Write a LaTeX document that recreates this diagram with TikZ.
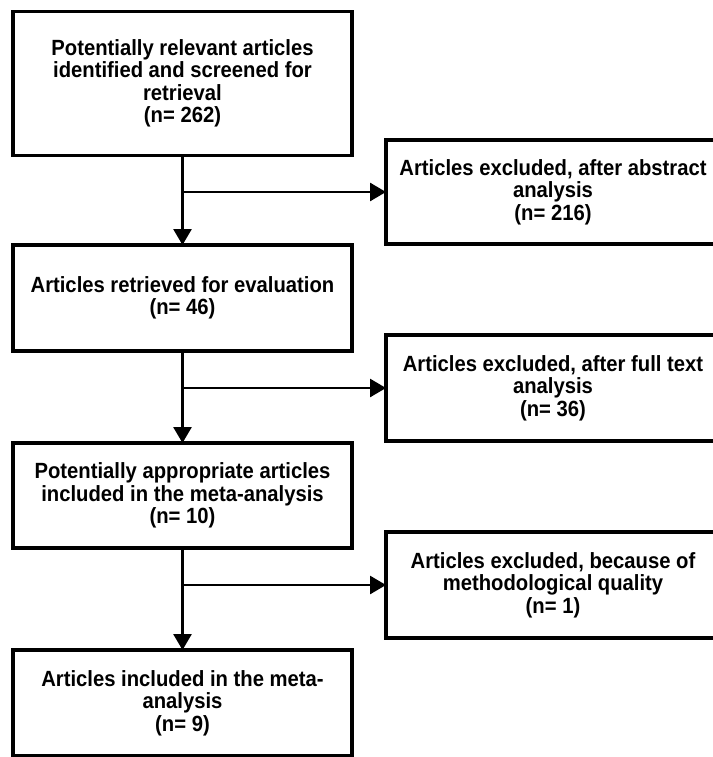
\documentclass[tikz,border=0pt]{standalone}
\usepackage{fontspec}
\setmainfont{Liberation Sans}[FakeStretch=0.92]
\usetikzlibrary{arrows.meta}
\tikzset{
	leftbox/.style={draw, line width=3.4pt, minimum width=339pt, inner sep=0pt, outer sep=0pt,
		align=center, font=\fontsize{22}{22.5}\selectfont\bfseries},
	rightbox/.style={leftbox, minimum width=334pt, minimum height=105pt},
	flow/.style={line width=2.8pt, -{Triangle[length=16pt,width=18pt]}},
}
\begin{document}
\begin{tikzpicture}[x=1pt,y=-1pt]
\useasboundingbox (0,0) rectangle (712,757);
% main column
\node[leftbox, minimum height=144pt] (ident) at (182.5,83.5) {Potentially relevant articles\\identified and screened for\\retrieval\\(n= 262)};
\node[leftbox, minimum height=106pt] (retr) at (182.5,298) {Articles retrieved for evaluation\\(n= 46)};
\node[leftbox, minimum height=105pt] (appr) at (182.5,495.5) {Potentially appropriate articles\\included in the meta-analysis\\(n= 10)};
\node[leftbox, minimum height=106pt] (incl) at (182.5,703) {Articles included in the meta-\\analysis\\(n= 9)};
% excluded
\node[rightbox, minimum height=104pt] (exabs) at (553,192) {Articles excluded, after abstract\\analysis\\(n= 216)};
\node[rightbox, minimum height=106pt] (exfull) at (553,388) {Articles excluded, after full text\\analysis\\(n= 36)};
\node[rightbox, minimum height=106pt] (exqual) at (553,585) {Articles excluded, because of\\methodological quality\\(n= 1)};
% arrows
\draw[flow] (ident.south) -- (retr.north);
\draw[flow] (retr.south) -- (appr.north);
\draw[flow] (appr.south) -- (incl.north);
\draw[flow] (ident.south |- exabs.west) -- (exabs.west);
\draw[flow] (retr.south |- exfull.west) -- (exfull.west);
\draw[flow] (appr.south |- exqual.west) -- (exqual.west);
\end{tikzpicture}
\end{document}
